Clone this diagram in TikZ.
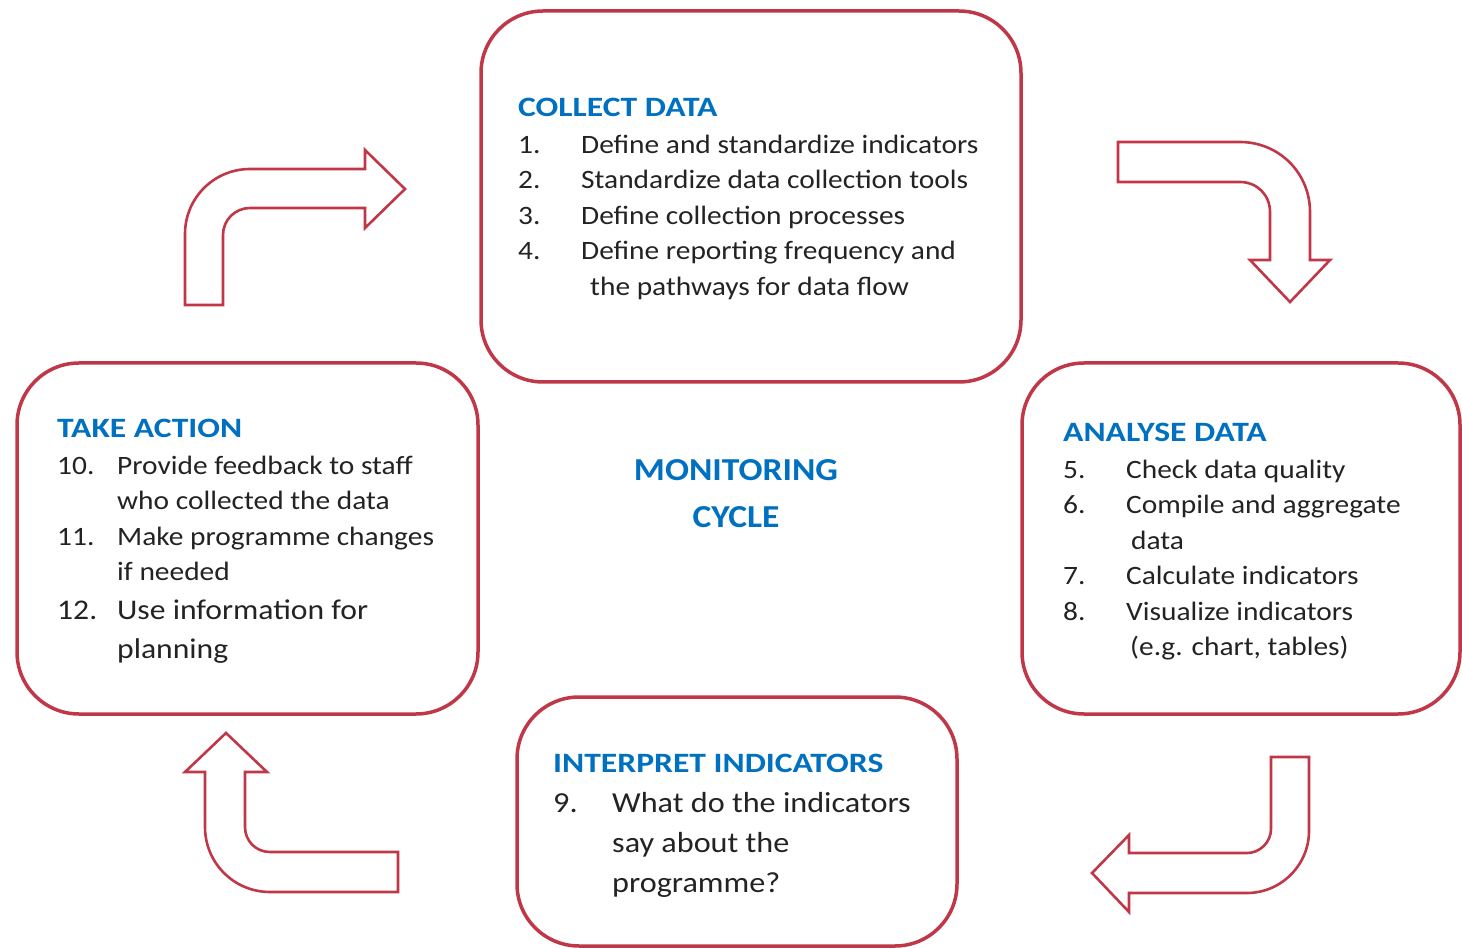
\documentclass[tikz,border=0pt]{standalone}
\usepackage{fontspec}
\setmainfont{Carlito}[FakeStretch=1.11]
\newfontfamily\headfont{Carlito}[FakeStretch=1.2]
\usepackage{array}

\definecolor{cyclered}{RGB}{192,56,72}
\definecolor{headblue}{RGB}{0,112,192}
\definecolor{bodytext}{RGB}{35,35,35}

\tikzset{
  stagebox/.style={draw=cyclered, line width=3.5pt, rounded corners=62pt, fill=white, inner sep=0pt},
  stagehead/.style={anchor=base west, inner sep=0pt, text=headblue, font=\headfont\fontsize{28}{33}\selectfont\bfseries},
  stagelist/.style={anchor=base west, inner sep=0pt, text=bodytext, font=\fontsize{26.5}{35.5}\selectfont},
  turnarrow/.style={draw=cyclered, line width=2.6pt, fill=white, line join=miter}
}

\begin{document}
\begin{tikzpicture}[x=1pt, y=-1pt]

\useasboundingbox (0,0) rectangle (1462,949);

% Four stage boxes of the cycle
\node[stagebox, minimum width=540pt, minimum height=371pt] (collect) at (751,196.5) {};
\node[stagebox, minimum width=438pt, minimum height=351pt] (analyse) at (1241,538.5) {};
\node[stagebox, minimum width=440pt, minimum height=249pt] (interpret) at (737,821.5) {};
\node[stagebox, minimum width=461pt, minimum height=351pt] (action) at (247.5,538.5) {};

% Collect data
\node[stagehead] (collect-head) at (518,116.5) {COLLECT DATA};
\node[stagelist] (collect-list) at (518,153.5) {\begin{tabular}[t]{@{}p{63pt}@{}l@{}}
1. & Define and standardize indicators\\
2. & Standardize data collection tools\\
3. & Define collection processes\\
4. & Define reporting frequency and\\
   & \hspace{9pt}the pathways for data flow
\end{tabular}};

% Analyse data
\node[stagehead] (analyse-head) at (1063,441.5) {ANALYSE DATA};
\node[stagelist] (analyse-list) at (1063,478.5) {\begin{tabular}[t]{@{}p{63pt}@{}l@{}}
5. & Check data quality\\
6. & Compile and aggregate\\
   & \hspace{5pt}data\\
7. & Calculate indicators\\
8. & Visualize indicators\\
   & \hspace{4pt}(e.g. chart, tables)
\end{tabular}};

% Interpret indicators
\node[stagehead] (interpret-head) at (553,772.5) {INTERPRET INDICATORS};
\node[stagelist, font=\fontsize{29}{40}\selectfont] (interpret-list) at (553,812) {\begin{tabular}[t]{@{}p{59pt}@{}l@{}}
9. & What do the indicators\\
   & say about the\\
   & programme?
\end{tabular}};

% Take action
\node[stagehead] (action-head) at (57,437.5) {TAKE ACTION};
\node[stagelist] (action-list) at (57,474.5) {\begin{tabular}[t]{@{}p{60pt}@{}l@{}}
10. & Provide feedback to staff\\
    & who collected the data\\
11. & Make programme changes\\
    & if needed\\[3.5pt]
\fontsize{28.5}{38}\selectfont 12. & \fontsize{28.5}{38}\selectfont Use information for\\[3pt]
    & \fontsize{28.5}{38}\selectfont planning
\end{tabular}};

% Centre title
\node[anchor=base, inner sep=0pt, text=headblue, font=\fontsize{32}{47}\selectfont\bfseries] (cycle-title) at (736,480.5)
  {\begin{tabular}[t]{@{}c@{}}MONITORING\\CYCLE\end{tabular}};

% Bent block arrows between the stages
% top left: action -> collect
\draw[turnarrow] (185,305) -- (185,234) .. controls (185,198) and (214,169) .. (250,169)
  -- (365,169) -- (365,150) -- (405,189) -- (365,228) -- (365,208) -- (250,208)
  .. controls (235,208) and (223,220) .. (223,235) -- (223,305) -- cycle;

% top right: collect -> analyse
\draw[turnarrow] (1118,142) -- (1240,142) .. controls (1279,142) and (1310,173) .. (1310,212)
  -- (1310,260) -- (1330,260) -- (1290,302) -- (1250,260) -- (1270,260) -- (1270,212)
  .. controls (1270,195) and (1257,182) .. (1240,182) -- (1118,182) -- cycle;

% bottom right: analyse -> interpret
\draw[turnarrow] (1271,757) -- (1271,829) .. controls (1271,842) and (1260,853) .. (1247,853)
  -- (1129,853) -- (1129,835) -- (1092,873) -- (1129,912) -- (1129,893) -- (1247,893)
  .. controls (1281,893) and (1309,865) .. (1309,831) -- (1309,757) -- cycle;

% bottom left: interpret -> action
\draw[turnarrow] (398,852) -- (270,852) .. controls (256,852) and (245,841) .. (245,827)
  -- (245,772) -- (267,772) -- (226,733) -- (185,772) -- (205,772) -- (205,827)
  .. controls (205,863) and (234,892) .. (270,892) -- (398,892) -- cycle;

\end{tikzpicture}
\end{document}
